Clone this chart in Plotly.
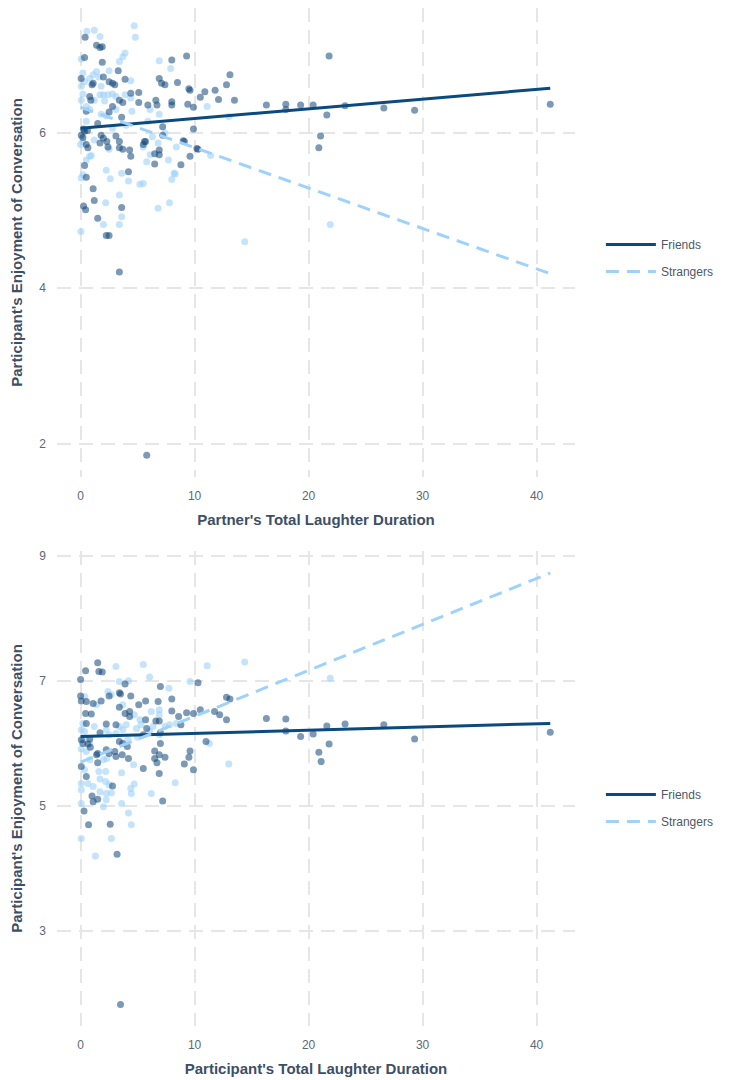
import plotly.graph_objects as go
from plotly.subplots import make_subplots

# ---------------- data ----------------
# Top panel: Partner's total laughter duration vs participant's enjoyment
top_friends_x = [0.4, 1.4, 1.7, 1.9, 0.35, 1.9, 8.0, 9.3, 0.05, 1.1, 1.0, 2.0, 3.3, 3.9, 2.5, 2.8, 3.0,
                 6.9, 7.1, 7.4, 5.1, 4.4, 8.5, 9.5, 0.8, 0.9, 3.4, 3.7, 5.1, 5.9, 6.6, 6.7, 8.0, 8.0, 9.4,
                 2.8, 0.5, 2.5, 3.6, 0.35, 0.6, 1.5, 0.26, 0.06, 0.2, 0.5, 0.64, 1.8, 2.0, 1.7, 2.3, 2.4,
                 3.1, 3.4, 3.4, 3.7, 4.3, 4.4, 5.6, 5.5, 6.5, 6.5, 6.9, 6.9, 7.2, 7.2, 9.1, 9.6, 10.2, 8.8,
                 0.35, 0.5, 4.2, 1.1, 1.2, 0.26, 0.44, 3.6, 1.5, 2.25, 2.5, 3.4, 5.8,
                 21.8, 16.3, 18.0, 18.0, 19.3, 20.4, 23.2, 26.6, 29.3, 41.2, 21.6, 21.05, 20.9,
                 13.1, 12.8, 13.5, 12.1, 11.8, 10.9, 10.5, 9.6, 9.9, 9.9, 10.3, 9.0, 5.7]
top_friends_y = [7.23, 7.13, 7.10, 7.11, 6.97, 6.91, 6.94, 6.99, 6.70, 6.64, 6.62, 6.72, 6.80, 6.69, 6.66, 6.64, 6.62,
                 6.70, 6.64, 6.62, 6.52, 6.51, 6.65, 6.57, 6.47, 6.42, 6.42, 6.39, 6.39, 6.36, 6.42, 6.36, 6.40, 6.36, 6.37,
                 6.34, 6.28, 6.27, 6.20, 6.02, 6.03, 6.12, 6.05, 5.97, 5.94, 5.85, 5.81, 5.97, 5.93, 5.87, 5.89, 5.82,
                 5.96, 5.89, 5.81, 5.79, 5.78, 5.70, 5.89, 5.85, 5.73, 5.60, 5.78, 5.72, 6.08, 5.97, 5.89, 5.70, 5.80, 5.59,
                 5.58, 5.43, 5.50, 5.28, 5.13, 5.06, 5.01, 5.04, 4.90, 4.68, 4.68, 4.21, 1.85,
                 6.99, 6.36, 6.37, 6.30, 6.36, 6.36, 6.35, 6.32, 6.29, 6.37, 6.23, 5.96, 5.81,
                 6.75, 6.62, 6.42, 6.43, 6.55, 6.53, 6.46, 6.55, 6.33, 6.05, 5.79, 5.90, 5.89]

top_strangers_x = [0.55, 1.2, 1.7, 4.7, 4.8, 0.06, 3.9, 3.7, 3.4, 6.9, 2.5, 1.4, 1.1, 1.6, 0.2, 0.35, 0.06,
                   0.8, 4.4, 1.8, 1.7, 2.0, 0.2, 0.06, 2.4, 2.8, 3.1, 1.2, 2.1, 3.9, 4.4, 0.5, 0.8, 1.8,
                   2.25, 3.1, 4.5, 6.1, 6.9, 5.9, 4.0, 2.8, 0.5, 11.1, 13.0, 7.9, 11.4, 8.4, 7.7, 8.2, 8.0,
                   6.8, 7.8, 5.2, 5.5, 6.3, 6.1, 5.8, 2.25, 2.6, 3.4, 2.2, 0.06, 0.5, 0.8, 0.2, 0.0,
                   3.6, 3.4, 2.0, 0.03, 14.4, 21.9, 3.6, 4.2, 8.3, 0.2, 0.94, 6.8, 1.2, 2.5, 5.5, 7.4]
top_strangers_y = [7.31, 7.32, 7.24, 7.38, 7.23, 6.95, 7.03, 6.98, 6.92, 6.93, 6.80, 6.79, 6.75, 6.72, 6.77, 6.66, 6.60,
                   6.70, 6.67, 6.60, 6.49, 6.49, 6.50, 6.42, 6.49, 6.50, 6.47, 6.42, 6.41, 6.49, 6.45, 6.34, 6.30, 6.24,
                   6.22, 6.30, 6.28, 6.30, 6.24, 6.15, 6.10, 6.06, 6.15, 6.34, 6.21, 6.83, 5.71, 5.82, 5.65, 5.48, 5.40,
                   5.03, 5.10, 5.34, 5.35, 5.95, 5.72, 5.63, 5.52, 5.41, 5.20, 5.10, 5.42, 5.65, 5.70, 5.89, 5.85,
                   4.92, 4.82, 4.82, 4.73, 4.60, 4.82, 5.48, 5.38, 5.47, 5.46, 5.71, 5.87, 5.91, 5.79, 5.82, 6.00]

# Bottom panel: Participant's total laughter duration vs participant's enjoyment
bot_friends_x = [1.5, 0.44, 1.6, 1.9, 0.0, 3.9, 3.4, 3.5, 4.4, 7.0, 10.3, 0.0, 0.06, 0.5, 1.1, 1.8, 2.5,
                 3.4, 5.1, 5.7, 6.8, 8.0, 8.0, 12.8, 13.1, 0.44, 0.94, 3.9, 4.3, 4.3, 5.7, 6.6, 6.9, 8.6,
                 9.3, 9.9, 10.5, 11.75, 12.2, 12.8, 16.3, 18.0, 0.5, 2.25, 3.1, 5.8, 8.8, 1.7, 0.8, 0.06,
                 3.4, 3.7, 4.1, 5.5, 7.0, 11.0, 9.6, 6.5, 1.5, 2.5, 3.1, 0.85,
                 18.0, 19.3, 20.4, 21.6, 21.8, 20.9, 21.1, 23.2, 26.6, 29.3, 41.2,
                 0.2, 0.64, 1.4, 2.25, 3.0, 3.65, 4.2, 0.06, 1.5, 0.5, 2.8, 1.0, 1.1, 1.5,
                 5.5, 6.5, 6.7, 6.9, 7.4, 6.9, 7.0, 9.1, 9.5, 9.9, 7.2, 0.3, 0.7, 2.6, 3.2, 3.5]
bot_friends_y = [7.29, 7.16, 7.15, 7.14, 7.02, 6.95, 6.81, 6.79, 6.76, 6.91, 6.97, 6.76, 6.68, 6.67, 6.64, 6.68, 6.76,
                 6.58, 6.62, 6.68, 6.67, 6.71, 6.52, 6.74, 6.71, 6.48, 6.47, 6.48, 6.51, 6.43, 6.38, 6.36, 6.36, 6.43,
                 6.49, 6.48, 6.54, 6.51, 6.46, 6.38, 6.40, 6.39, 6.32, 6.31, 6.30, 6.24, 6.30, 6.17, 6.07, 6.06,
                 6.03, 6.00, 5.95, 6.14, 6.17, 6.03, 5.88, 5.88, 5.84, 5.84, 5.79, 5.94,
                 6.20, 6.11, 6.15, 6.28, 5.99, 5.86, 5.71, 6.31, 6.30, 6.07, 6.18,
                 6.00, 5.99, 5.82, 5.90, 5.87, 5.82, 5.76, 5.63, 5.69, 5.47, 5.32, 5.16, 5.07, 5.11,
                 5.60, 5.76, 5.69, 5.82, 5.78, 5.52, 6.00, 5.67, 5.78, 5.58, 5.08, 4.92, 4.70, 4.71, 4.23, 1.83]

bot_strangers_x = [3.1, 5.5, 6.05, 3.4, 4.2, 9.6, 7.75, 0.35, 2.4, 2.7, 1.4, 3.7, 6.9, 4.7, 5.2, 6.2, 0.2,
                   0.06, 0.35, 1.2, 2.25, 2.5, 3.1, 3.4, 3.7, 4.0, 4.9, 5.3, 6.05, 6.35, 7.4, 7.8, 8.4, 6.9,
                   4.15, 5.0, 0.2, 0.8, 11.1, 14.4, 21.9, 6.9, 11.3,
                   0.06, 0.5, 0.8, 0.35, 2.0, 2.3, 1.6, 2.2, 3.6, 4.65, 1.7, 0.06, 0.06, 0.64, 1.1, 2.2, 2.5,
                   1.7, 2.25, 2.7, 4.4, 4.7, 4.45, 6.2, 8.3, 2.25, 2.0, 3.6, 0.06, 4.2, 4.45, 0.06, 2.7, 1.3, 13.0]
bot_strangers_y = [7.23, 7.26, 7.06, 6.99, 7.00, 6.99, 6.88, 6.75, 6.83, 6.78, 6.62, 6.62, 6.54, 6.46, 6.38, 6.51, 6.32,
                   6.22, 6.19, 6.27, 6.22, 6.14, 6.16, 6.27, 6.22, 6.30, 6.24, 6.30, 6.19, 6.27, 6.27, 6.30, 6.32, 6.14,
                   6.06, 6.10, 6.06, 6.00, 7.24, 7.30, 7.04, 6.46, 6.00,
                   5.91, 5.87, 5.74, 5.58, 5.74, 5.76, 5.55, 5.55, 5.53, 5.66, 5.43, 5.36, 5.26, 5.36, 5.31, 5.39, 5.34,
                   5.23, 5.20, 5.21, 5.28, 5.35, 5.20, 5.20, 5.37, 5.10, 4.99, 5.04, 5.04, 4.89, 4.70, 4.48, 4.48, 4.20, 5.67]

# Fitted linear trends (intercept, slope), order: Friends, Strangers
top_fit_intercepts = [6.06, 6.33]
top_fit_slopes = [0.0125, -0.052]
bot_fit_intercepts = [6.11, 5.70]
bot_fit_slopes = [0.0051, 0.0734]

groups = ["Friends", "Strangers"]
x_ticks = [0, 10, 20, 30, 40]
top_y_ticks = [2, 4, 6]
bot_y_ticks = [3, 5, 7, 9]

# ---------------- styling ----------------
DARK = "#0b4a7e"
LIGHT = "#9fd2fa"
PT_DARK = "rgba(16,70,120,0.55)"
PT_LIGHT = "rgba(150,205,250,0.55)"
FONT = "Liberation Sans, Arial, sans-serif"
TITLE_COL = "#3d4f66"
TICK_COL = "#5c6878"
GRID_COL = "#e6e6e6"

fig = make_subplots(rows=2, cols=1)

panels = [
    (1, top_strangers_x, top_strangers_y, top_friends_x, top_friends_y, top_fit_intercepts, top_fit_slopes, "legend"),
    (2, bot_strangers_x, bot_strangers_y, bot_friends_x, bot_friends_y, bot_fit_intercepts, bot_fit_slopes, "legend2"),
]

for row, sx, sy, fx, fy, ints, slopes, leg in panels:
    fig.add_trace(go.Scatter(x=sx, y=sy, mode="markers", showlegend=False, hoverinfo="skip",
                             marker=dict(size=7, color=PT_LIGHT, line=dict(width=0))), row=row, col=1)
    fig.add_trace(go.Scatter(x=fx, y=fy, mode="markers", showlegend=False, hoverinfo="skip",
                             marker=dict(size=7, color=PT_DARK, line=dict(width=0))), row=row, col=1)
    allx = sx + fx
    xmin, xmax = min(allx), max(allx)
    for i, g in enumerate(groups):
        xs = [xmin, xmax]
        ys = [ints[i] + slopes[i] * v for v in xs]
        fig.add_trace(go.Scatter(
            x=xs, y=ys, mode="lines", name=g, legend=leg, legendgroup=f"{leg}{g}",
            line=dict(color=DARK if g == "Friends" else LIGHT, width=3,
                      dash="solid" if g == "Friends" else "13px,8px")), row=row, col=1)

axis_common = dict(showgrid=True, gridcolor=GRID_COL, gridwidth=1.5, griddash="14px,8px",
                   zeroline=False, showline=False, ticks="", automargin=False,
                   ticklabelstandoff=10,
                   tickfont=dict(family=FONT, size=12, color=TICK_COL))
title_font = dict(family=FONT, size=15, color=TITLE_COL, weight="bold")

fig.update_xaxes(range=[-2.07, 43.37], tickvals=x_ticks, **axis_common)
fig.update_yaxes(**axis_common)

fig.update_layout(
    xaxis=dict(domain=[0, 1], title=dict(text="Partner's Total Laughter Duration", font=title_font, standoff=12)),
    xaxis2=dict(domain=[0, 1], title=dict(text="Participant's Total Laughter Duration", font=title_font, standoff=12)),
    yaxis=dict(domain=[0.5393, 1.0], range=[1.57, 7.608], tickvals=top_y_ticks,
               title=dict(text="Participant's Enjoyment of Conversation", font=title_font, standoff=14)),
    yaxis2=dict(domain=[0.0, 0.4666], range=[1.485, 9.075], tickvals=bot_y_ticks,
                title=dict(text="Participant's Enjoyment of Conversation", font=title_font, standoff=14)),
    width=729, height=1072,
    margin=dict(l=49, r=162, t=0, b=54, autoexpand=False),
    plot_bgcolor="white", paper_bgcolor="white",
    legend=dict(x=1.05, y=0.7544, xanchor="left", yanchor="middle", traceorder="grouped",
                tracegroupgap=8, itemwidth=50, bgcolor="rgba(0,0,0,0)",
                font=dict(family=FONT, size=12, color="#4d5866")),
    legend2=dict(x=1.05, y=0.2141, xanchor="left", yanchor="middle", traceorder="grouped",
                 tracegroupgap=8, itemwidth=50, bgcolor="rgba(0,0,0,0)",
                 font=dict(family=FONT, size=12, color="#4d5866")),
)

fig.write_html("out.html")
